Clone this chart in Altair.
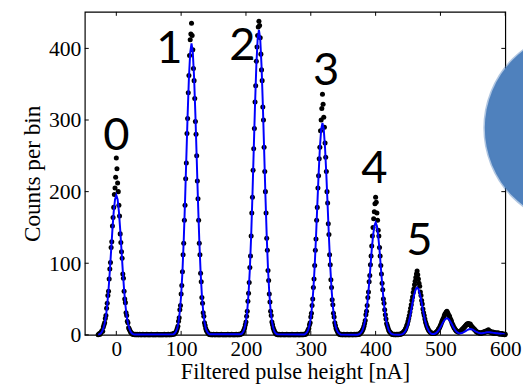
import altair as alt
import pandas as pd

# ---------------- histogram counts (1 nA bins) ----------------
peak0_start = -28
peak0_counts = [0, 1, 2, 1, 3, 4, 6, 5, 11, 14, 17, 23, 27, 37, 44, 55, 61, 78, 92, 101,
                122, 130, 152, 164, 178, 196, 205, 220, 247, 232, 212, 200, 181, 166, 141,
                129, 116, 107, 85, 79, 61, 50, 45, 31, 27, 19, 17, 10, 8, 6, 4, 3, 2, 1, 1]
gap01_start = 27
gap01_counts = [1, 0, 1, 0, 0, 1, 0, 0, 0, 1, 0, 0, 0, 0, 1, 0, 0, 0, 0, 0, 1, 0, 0, 0, 0,
                0, 0, 1, 0, 0, 0, 0, 0, 0, 0, 0, 1, 0, 0, 0, 0, 0, 0, 0, 0, 0, 0, 1, 0, 0,
                0, 0, 0, 1, 0, 0, 0, 1, 0, 1, 1, 2, 1]
peak1_start = 90
peak1_counts = [2, 3, 4, 6, 9, 12, 19, 24, 35, 41, 57, 69, 88, 112, 128, 160, 181, 218, 240,
                281, 302, 338, 362, 390, 412, 420, 435, 418, 398, 372, 355, 330, 298, 280,
                250, 215, 190, 160, 128, 112, 86, 74, 52, 44, 31, 26, 17, 13, 9, 6, 5, 3, 2]
gap12_start = 143
gap12_counts = [1, 1, 0, 1, 0, 0, 0, 1, 0, 0, 0, 0, 1, 0, 0, 0, 0, 0, 0, 1, 0, 0, 0, 0, 0,
                0, 0, 0, 0, 1, 0, 0, 0, 0, 0, 1, 0, 0, 0, 0, 0, 0, 1, 0, 0, 0, 1, 0, 1, 1, 2]
peak2_start = 194
peak2_counts = [2, 3, 5, 7, 10, 14, 18, 26, 33, 47, 58, 73, 94, 110, 138, 170, 192, 230, 260,
                288, 325, 348, 382, 402, 418, 430, 438, 432, 415, 392, 370, 355, 318, 300,
                262, 228, 200, 170, 135, 118, 90, 76, 57, 46, 33, 27, 18, 14, 10, 7, 5, 3, 2]
gap23_start = 247
gap23_counts = [1, 1, 0, 0, 1, 0, 0, 0, 0, 1, 0, 0, 0, 0, 0, 0, 1, 0, 0, 0, 0, 0, 0, 0, 1,
                0, 0, 0, 0, 0, 0, 0, 1, 0, 0, 0, 0, 0, 1, 0, 0, 1, 0, 1, 1]
peak3_start = 292
peak3_counts = [1, 2, 3, 5, 7, 9, 14, 17, 25, 30, 41, 50, 66, 78, 97, 118, 134, 160, 178,
                205, 222, 246, 262, 285, 300, 316, 336, 322, 304, 290, 268, 248, 228, 200,
                184, 155, 140, 112, 98, 77, 66, 49, 42, 30, 25, 17, 13, 9, 7, 5, 3, 2, 1]
gap34_start = 345
gap34_counts = [1, 0, 1, 0, 0, 0, 1, 0, 0, 0, 0, 1, 0, 0, 0, 0, 0, 1, 0, 0, 0, 0, 1, 0, 0,
                1, 0, 1, 1]
peak4_start = 374
peak4_counts = [1, 1, 2, 3, 4, 5, 7, 9, 12, 16, 20, 28, 33, 41, 52, 60, 74, 83, 98, 110, 124,
                138, 150, 162, 172, 183, 192, 185, 170, 160, 146, 138, 122, 110, 97, 85, 72,
                63, 50, 44, 35, 28, 22, 16, 13, 10, 7, 5, 4, 3, 2, 1, 1]
gap45_start = 427
gap45_counts = [1, 0, 1, 0, 0, 1, 0, 1, 0, 1, 1]
peak5_start = 438
peak5_counts = [1, 1, 2, 2, 3, 4, 5, 6, 8, 10, 13, 15, 19, 23, 27, 32, 37, 42, 48, 53, 59, 64,
                70, 75, 80, 85, 89, 84, 78, 72, 68, 60, 55, 48, 43, 36, 31, 27, 22, 18, 15,
                12, 10, 8, 6, 5, 4, 3, 3, 2, 2, 2, 2]
tail_start = 491
tail_counts = [2, 3, 3, 4, 5, 6, 8, 9, 11, 13, 15, 18, 20, 22, 24, 27, 29, 30, 32, 33, 31, 29,
               27, 26, 23, 21, 19, 16, 14, 12, 10, 9, 7, 6, 5, 5, 4, 4, 4, 5, 5, 6, 7, 8, 9,
               10, 11, 12, 13, 14, 15, 15, 16, 15, 14, 15, 13, 12, 11, 10, 9, 8, 7, 6,
               5, 4, 4, 3, 3, 3, 2, 3, 2, 3, 3, 4, 3, 4, 5, 4, 5, 6, 5, 7, 5, 4, 5, 4, 3,
               3, 4, 2, 3, 3, 2, 3, 2, 2, 3, 2, 1, 2, 2, 1, 2, 1, 1, 1, 0, 1]

# ---------------- fitted curve (2 nA steps) ----------------
fit0_start = -28
fit0_values = [0.4, 1, 2, 4.5, 9, 16, 26, 42, 63, 89, 118, 147, 172, 189, 195, 189, 172, 147,
               118, 89, 63, 42, 26, 16, 9, 4.5, 2, 1, 0.4]
fit1_start = 88
fit1_values = [0.8, 2, 4.5, 9, 18, 33, 55, 88, 132, 186, 247, 307, 359, 394, 407, 394, 359,
               307, 247, 186, 132, 88, 55, 33, 18, 9, 4.5, 2, 0.8]
fit2_start = 192
fit2_values = [0.9, 2, 4.7, 10, 19, 34, 58, 92, 138, 195, 259, 322, 376, 413, 426, 413, 376,
               322, 259, 195, 138, 92, 58, 34, 19, 10, 4.7, 2, 0.9]
fit3_start = 290
fit3_values = [0.6, 1.5, 3.3, 7, 13, 24, 40, 64, 96, 136, 180, 223, 261, 287, 296, 287, 261,
               223, 180, 136, 96, 64, 40, 24, 13, 7, 3.3, 1.5, 0.6]
fit4_start = 372
fit4_values = [0.3, 0.8, 1.7, 3.6, 7, 13, 21, 34, 51, 72, 95, 119, 138, 152, 157, 152, 138,
               119, 95, 72, 51, 34, 21, 13, 7, 3.6, 1.7, 0.8, 0.3]
fit5_start = 436
fit5_values = [0.1, 0.3, 0.7, 1.5, 2.9, 5.3, 8.9, 14, 21, 30, 40, 50, 58, 64, 66, 64, 58, 50,
               40, 30, 21, 14, 8.9, 5.3, 2.9, 1.5]
fit_tail_start = 488
fit_tail_values = [1.2, 1.3, 1.9, 3.1, 5, 7.5, 10.5, 14, 17.4, 20.3, 22.3, 23, 22.3, 20.3,
                   17.4, 14, 10.5, 7.5, 5.2, 3.5, 2.4, 2.1, 2.2, 2.9, 3.7, 4.9, 6, 7.1, 7.8,
                   8.1, 7.9, 7.2, 6.1, 5.0, 4.0, 3.1, 2.5, 2.2, 2.2, 2.5, 2.8, 3.2, 3.5, 3.6,
                   3.6, 3.4, 3.1, 2.8, 2.5, 2.2, 2.1, 1.9, 1.8, 1.6, 1.4, 1.1, 0.9]

# ---------------- annotations ----------------
label_text = ["0", "1", "2", "3", "4", "5"]
label_x = [0, 82, 194.4, 323.5, 398, 467.5]
label_y = [277.7, 398.7, 402.9, 368.5, 231, 130.6]

x_ticks = [0, 100, 200, 300, 400, 500, 600]
y_ticks = [0, 100, 200, 300, 400]

# decorative disc at the right edge (partly outside the frame)
disc_x = [718.4]
disc_y = [288.7]

# ---------------- build tables ----------------
dot_rows = []
for start, counts in [(peak0_start, peak0_counts), (gap01_start, gap01_counts),
                      (peak1_start, peak1_counts), (gap12_start, gap12_counts),
                      (peak2_start, peak2_counts), (gap23_start, gap23_counts),
                      (peak3_start, peak3_counts), (gap34_start, gap34_counts),
                      (peak4_start, peak4_counts), (gap45_start, gap45_counts),
                      (peak5_start, peak5_counts), (tail_start, tail_counts)]:
    for i, c in enumerate(counts):
        dot_rows.append({"x": start + i, "y": c})
dots_df = pd.DataFrame(dot_rows)

fit_rows = []
for start, vals in [(fit0_start, fit0_values), (fit1_start, fit1_values),
                    (fit2_start, fit2_values), (fit3_start, fit3_values),
                    (fit4_start, fit4_values), (fit5_start, fit5_values),
                    (fit_tail_start, fit_tail_values)]:
    for i, v in enumerate(vals):
        fit_rows.append({"x": start + 2 * i, "y": v})
fit_df = pd.DataFrame(fit_rows)

labels_df = pd.DataFrame({"t": label_text, "x": label_x, "y": label_y})
xt_df = pd.DataFrame({"x": x_ticks})
yt_df = pd.DataFrame({"y": y_ticks})
disc_df = pd.DataFrame({"x": disc_x, "y": disc_y})

W, H = 427, 328
xs = alt.Scale(domain=[-48.6, 600], nice=False, zero=False)
ys = alt.Scale(domain=[0, 451], nice=False, zero=False)
serif = "Liberation Serif"

x_axis = alt.Axis(values=x_ticks, title="Filtered pulse height [nA]", labelFont=serif,
                  labelFontSize=21.5, labelColor="black", labelPadding=4, titleFont=serif,
                  titleFontSize=22.5, titleFontWeight="normal", titleColor="black",
                  titlePadding=1, domain=False, ticks=False, tickSize=0, grid=False,
                  labelFlush=False)
y_axis = alt.Axis(values=y_ticks, title="Counts per bin", labelFont=serif, labelFontSize=22,
                  labelColor="black", labelPadding=4, titleFont=serif, titleFontSize=23.5,
                  titleFontWeight="normal", titleColor="black", titlePadding=4,
                  domain=False, ticks=False, tickSize=0, grid=False)


def X():
    return alt.X("x:Q", scale=xs, axis=x_axis)


def Y():
    return alt.Y("y:Q", scale=ys, axis=y_axis)


dots = alt.Chart(dots_df).mark_circle(size=26, color="black", opacity=1).encode(x=X(), y=Y())

fit = alt.Chart(fit_df).mark_line(color="#0000FF", strokeWidth=2).encode(x=X(), y=Y())

tick_b = alt.Chart(xt_df).mark_rule(color="black", strokeWidth=1).encode(
    x=X(), y=alt.value(H), y2=alt.value(H - 4))
tick_t = alt.Chart(xt_df).mark_rule(color="black", strokeWidth=1).encode(
    x=X(), y=alt.value(0), y2=alt.value(4))
tick_l = alt.Chart(yt_df).mark_rule(color="black", strokeWidth=1).encode(
    y=Y(), x=alt.value(0), x2=alt.value(4))
tick_r = alt.Chart(yt_df).mark_rule(color="black", strokeWidth=1).encode(
    y=Y(), x=alt.value(W), x2=alt.value(W - 4))

labels = alt.Chart(labels_df).mark_text(font="Lato", fontSize=46, color="black",
                                        align="center", baseline="middle").encode(
    x=X(), y=Y(), text="t:N")

disc = alt.Chart(disc_df).mark_circle(size=39000, color="#4F81BD", opacity=1,
                                      stroke="#4F81BD", strokeOpacity=0.45,
                                      strokeWidth=3).encode(x=X(), y=Y())

chart = alt.layer(dots, fit, tick_b, tick_t, tick_l, tick_r, labels, disc).properties(
    width=W, height=H,
    autosize=alt.AutoSizeParams(type="none"),
    padding={"left": 78, "top": 1, "right": 18, "bottom": 49},
    background="white",
).configure_view(stroke="black", strokeWidth=1.2)

chart.save("out.html", embed_options={"renderer": "svg", "actions": False})
